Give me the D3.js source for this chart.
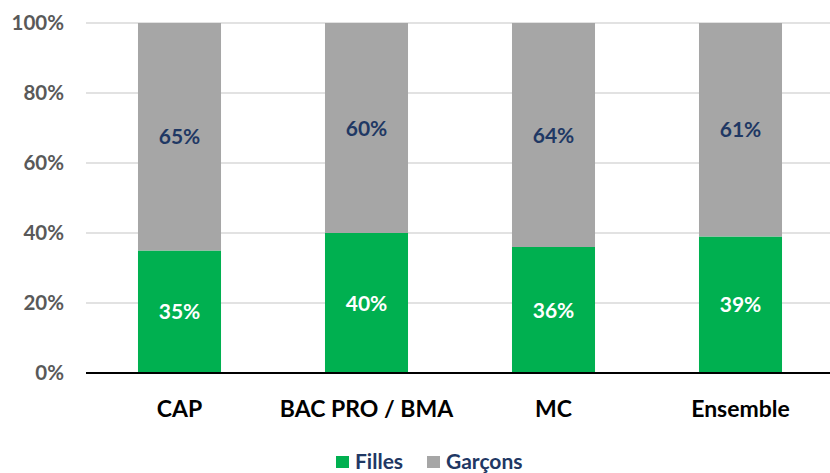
<!DOCTYPE html>
<html><head><meta charset="utf-8">
<script src="https://cdn.jsdelivr.net/npm/d3@7"></script>
<style>body{margin:0;background:#fff}svg{display:block}</style>
</head><body>
<svg id="c" width="830" height="473"></svg>
<script>
const categories = ["CAP", "BAC PRO / BMA", "MC", "Ensemble"];
const filles = [35, 40, 36, 39];
const garcons = [65, 60, 64, 61];
const yTicks = [0, 20, 40, 60, 80, 100];
const seriesNames = ["Filles", "Garçons"];
const colors = ["#00B050", "#A6A6A6"];
const labelColors = ["#FFFFFF", "#1F3864"];

const FONT = "Lato, 'Open Sans', sans-serif";
const svg = d3.select("#c");
const x = d3.scaleBand().domain(categories).range([86, 834]).paddingInner(0.556).paddingOuter(0.278);
const y = d3.scaleLinear().domain([0, 100]).range([373, 23]);

const rows = categories.map((c, i) => ({cat: c, Filles: filles[i], "Garçons": garcons[i]}));
const stack = d3.stack().keys(seriesNames)(rows);

// gridlines
svg.append("g").selectAll("line").data(yTicks.filter(d => d > 0)).join("line")
  .attr("x1", 86).attr("x2", 830).attr("y1", d => y(d)).attr("y2", d => y(d))
  .attr("stroke", "#D9D9D9").attr("stroke-width", 1.3);

// y tick labels
svg.append("g").selectAll("text").data(yTicks).join("text")
  .attr("x", 64).attr("y", d => y(d)).attr("dy", "0.36em").attr("text-anchor", "end")
  .attr("font-family", FONT).attr("font-weight", "bold").attr("font-size", 20.5)
  .attr("fill", "#595959").text(d => d + "%");

// bars
stack.forEach((s, si) => {
  const g = svg.append("g");
  g.selectAll("rect").data(s).join("rect")
    .attr("x", d => x(d.data.cat)).attr("width", x.bandwidth())
    .attr("y", d => y(d[1])).attr("height", d => y(d[0]) - y(d[1]))
    .attr("fill", colors[si]);
  g.selectAll("text").data(s).join("text")
    .attr("x", d => x(d.data.cat) + x.bandwidth() / 2)
    .attr("y", d => y((d[0] + d[1]) / 2)).attr("dy", "0.36em")
    .attr("text-anchor", "middle").attr("font-family", FONT).attr("font-weight", "bold")
    .attr("font-size", 21).attr("fill", labelColors[si])
    .text(d => (d[1] - d[0]) + "%");
});

// x axis line
svg.append("line").attr("x1", 86).attr("x2", 830).attr("y1", y(0)).attr("y2", y(0))
  .attr("stroke", "#000").attr("stroke-width", 2);

// category labels
svg.append("g").selectAll("text").data(categories).join("text")
  .attr("x", d => x(d) + x.bandwidth() / 2).attr("y", 409).attr("dy", "0.36em")
  .attr("text-anchor", "middle").attr("font-family", FONT).attr("font-weight", "bold")
  .attr("font-size", 23).attr("fill", "#000").text(d => d);

// legend
const legX = [336, 427];
const leg = svg.append("g").selectAll("g").data(seriesNames).join("g")
  .attr("transform", (d, i) => `translate(${legX[i]},461)`);
leg.append("rect").attr("x", 0).attr("y", -5).attr("width", 13).attr("height", 12)
  .attr("fill", (d, i) => colors[i]);
leg.append("text").attr("x", 19).attr("y", 0).attr("dy", "0.36em")
  .attr("font-family", FONT).attr("font-weight", "bold").attr("font-size", 21)
  .attr("fill", "#1F3864").text(d => d);
</script>
</body></html>
